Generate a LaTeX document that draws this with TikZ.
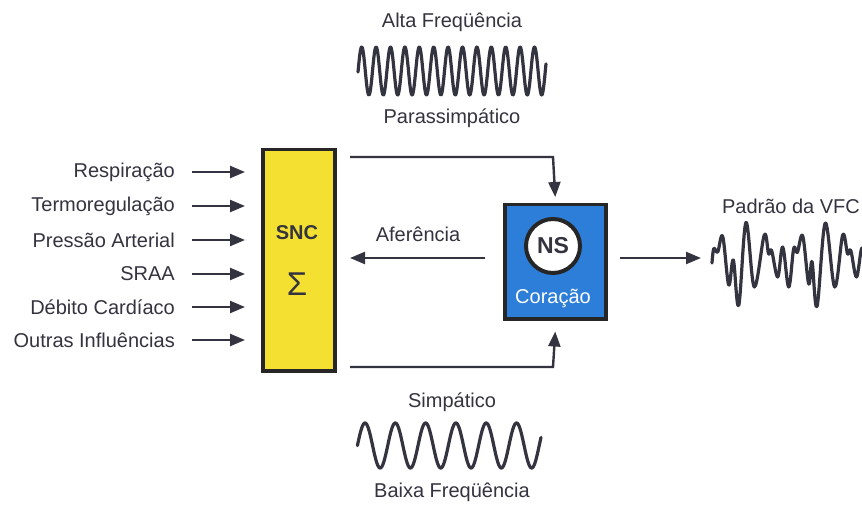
\documentclass[tikz,border=0pt]{standalone}
\usepackage{fontspec}
\setmainfont{Liberation Sans}
\usetikzlibrary{arrows.meta}
\definecolor{ink}{RGB}{52,52,64}
\definecolor{sncyellow}{RGB}{244,224,48}
\definecolor{heartblue}{RGB}{44,126,216}
\tikzset{
  lbl/.style={text=ink,font=\fontsize{20}{22}\selectfont,inner sep=0pt},
  tip/.style={-{Triangle[length=15pt,width=12pt]}},
  arr/.style={draw=ink,line width=2.4pt,tip},
  wire/.style={draw=ink,line width=2.4pt},
  wave/.style={draw=ink,line width=3.2pt,line join=round,line cap=round},
  boxframe/.style={draw=black!85,line width=3.5pt},
}
\begin{document}
\begin{tikzpicture}[x=1pt,y=-1pt]
\useasboundingbox[fill=white] (0,0) rectangle (862,505);

% SNC box
\node[boxframe,fill=sncyellow,minimum width=72pt,minimum height=221pt,inner sep=0pt,anchor=north west] (snc) at (261,148) {};
\node[text=ink,font=\fontsize{20}{22}\selectfont\bfseries,inner sep=0pt] (snct) at (297,233) {SNC};
\node[text=ink,font=\fontsize{33}{36}\selectfont,inner sep=0pt] (sigma) at (297,284) {Σ};

% Heart box
\node[boxframe,fill=heartblue,minimum width=101pt,minimum height=114pt,inner sep=0pt,anchor=north west] (heart) at (503,203) {};
\node[circle,draw=black!85,line width=4pt,fill=white,minimum size=54pt,inner sep=0pt] (ns) at (553,246) {};
\node[text=ink,font=\fontsize{23}{25}\selectfont\bfseries,inner sep=0pt] (nst) at (553,246) {NS};
\node[text=white,font=\fontsize{20}{22}\selectfont,inner sep=0pt] (cor) at (553,298) {Coração};

% Left inputs
\foreach \name/\txt/\yy in {l1/Respiração/172, l2/Termoregulação/206, l3/Pressão Arterial/240, l4/SRAA/274, l5/Débito Cardíaco/307, l6/Outras Influências/340}{
  \node[lbl,anchor=east] (\name) at (175,\yy) {\txt};
  \coordinate (\name s) at (192,\yy);
  \coordinate (\name e) at (245,\yy);
  \draw[arr] (\name s) -- (\name e);
}

% Top wire (parassimpatico)
\coordinate (ts) at (350,157);
\coordinate (tc) at (553,157);
\draw[wire,tip] (ts) -- (tc) -- ([yshift=6pt]heart.north);

% Bottom wire (simpatico)
\coordinate (bs) at (350,367);
\coordinate (bc) at (553,367);
\draw[wire,tip] (bs) -- (bc) -- ([yshift=-11pt]heart.south);

% Aferencia
\node[lbl] (af) at (418,234) {Aferência};
\coordinate (afs) at (485,258);
\coordinate (afe) at (350,258);
\draw[arr] (afs) -- (afe);

% Output
\coordinate (os) at (620,258);
\coordinate (oe) at (701,258);
\draw[arr] (os) -- (oe);
\node[lbl] (vfc) at (791,206) {Padrão da VFC};

% Top wave
\node[lbl] (alta) at (452,22) {Alta Freqüência};
\node[lbl] (para) at (452,118) {Parassimpático};
\draw[wave] plot[domain=358:546,samples=500,smooth] (\x,{71-24*cos((\x-361.7)*25)});

% Bottom wave
\node[lbl] (simp) at (452,402) {Simpático};
\node[lbl] (baixa) at (452,492) {Baixa Freqüência};
\draw[wave] plot[domain=357.4:541,samples=400,smooth] (\x,{445.5-22.5*cos((\x-365)*11.881)});

% HRV pattern
\begin{scope}
\clip (700,190) rectangle (862,330);
\draw[wave] plot[smooth,tension=0.6] coordinates {
 (712,263) (713.8,248.5) (717.7,252) (722.7,236.5) (728.7,285) (733.3,260)
 (738.7,305.5) (746,222.5) (754.3,287) (764.3,235) (768.6,254) (771.6,250.5)
 (777.7,277) (782.7,247) (788.7,287) (793.7,248.5) (797.3,252.5) (802.7,236)
 (808.7,284) (812,261.5) (817,306.5) (825.3,223) (834.7,287) (842.7,235)
 (847.6,254) (850.8,250.5) (856.5,277) (862,248) (866,280)};
\end{scope}
\end{tikzpicture}
\end{document}
